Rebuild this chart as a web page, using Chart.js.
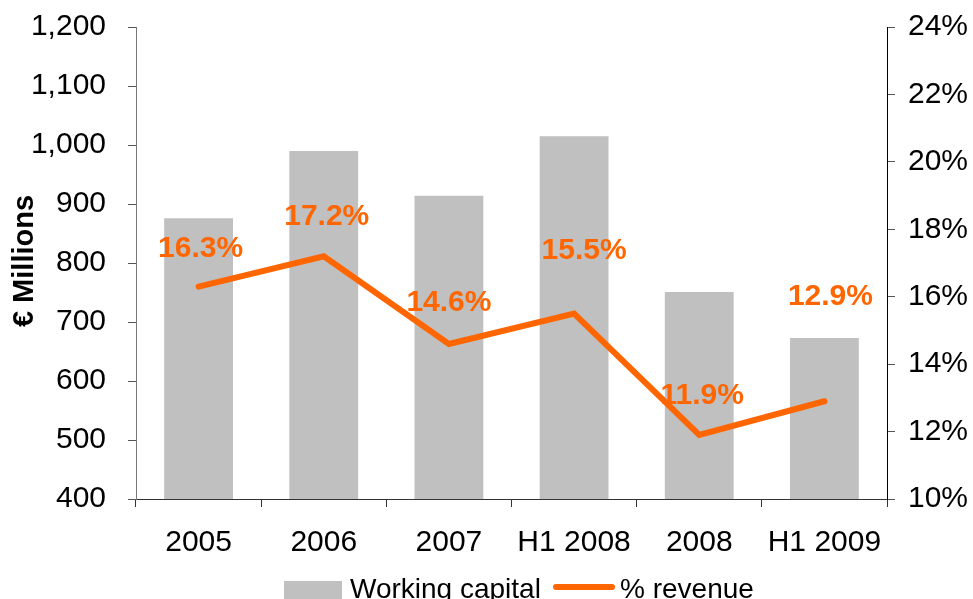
<!DOCTYPE html>
<html>
<head>
<meta charset="utf-8">
<script src="https://cdn.jsdelivr.net/npm/chart.js@4/dist/chart.umd.min.js"></script>
<style>
  html, body { margin: 0; padding: 0; background: #fff; overflow: hidden; }
  canvas { display: block; }
</style>
</head>
<body>
<canvas id="grafico" width="973" height="599"></canvas>
<script>
// categorias e series
const categorias = ["2005", "2006", "2007", "H1 2008", "2008", "H1 2009"];
const capitalGiro = [876, 990, 914, 1015, 751, 673];
const pctReceita = [16.3, 17.2, 14.6, 15.5, 11.9, 12.9];

const LARANJA = "#FF6600";
const CINZA = "#C0C0C0";
const FONTE = "'Liberation Sans', Arial, sans-serif";

// deslocamento dos rotulos em relacao ao ponto (dx, dy)
const deslocRotulos = [[2, -38], [3, -40], [0, -41], [10, -63], [3, -39], [6, -104]];

const pluginExtras = {
    id: "extras",
    afterDatasetDraw(chart, args) {
        if (args.index !== 0) return;
        // rotulos da linha, desenhados antes da linha
        const meta = chart.getDatasetMeta(1);
        const ctx = chart.ctx;
        ctx.save();
        ctx.font = "bold 30px " + FONTE;
        ctx.fillStyle = LARANJA;
        ctx.textAlign = "center";
        ctx.textBaseline = "middle";
        meta.data.forEach((pt, i) => {
            const d = deslocRotulos[i];
            ctx.fillText(pctReceita[i].toFixed(1) + "%", pt.x + d[0], pt.y + d[1]);
        });
        ctx.restore();
    },
    afterDraw(chart) {
        const ctx = chart.ctx;
        ctx.save();
        // titulo do eixo
        ctx.translate(25, 261);
        ctx.rotate(-Math.PI / 2);
        ctx.font = "bold 29px " + FONTE;
        ctx.fillStyle = "#000";
        ctx.textAlign = "center";
        ctx.textBaseline = "middle";
        ctx.fillText("€ Millions", 0, 0);
        ctx.restore();

        // legenda
        ctx.save();
        ctx.font = "28px " + FONTE;
        ctx.textBaseline = "alphabetic";
        ctx.fillStyle = CINZA;
        ctx.fillRect(284, 581, 58, 24);
        ctx.fillStyle = "#000";
        ctx.fillText(chart.data.datasets[0].label, 350, 598);
        ctx.strokeStyle = LARANJA;
        ctx.lineWidth = 6;
        ctx.lineCap = "round";
        ctx.beginPath();
        ctx.moveTo(556, 587);
        ctx.lineTo(612, 587);
        ctx.stroke();
        ctx.fillText(chart.data.datasets[1].label, 620, 598);
        ctx.restore();
    }
};

// largura fixa dos eixos y e sem folga extra em cima
function ajustaEixoY(largura) {
    return function (scale) {
        scale.width = largura;
        scale.paddingTop = 0;
        scale.paddingBottom = 0;
    };
}

const ctx = document.getElementById("grafico").getContext("2d");
new Chart(ctx, {
    type: "bar",
    data: {
        labels: categorias,
        datasets: [
            {
                label: "Working capital",
                data: capitalGiro,
                backgroundColor: CINZA,
                barPercentage: 0.55,
                categoryPercentage: 1,
                yAxisID: "y",
                order: 2
            },
            {
                type: "line",
                label: "% revenue",
                data: pctReceita,
                borderColor: LARANJA,
                backgroundColor: LARANJA,
                borderWidth: 6,
                borderCapStyle: "round",
                pointRadius: 0,
                tension: 0,
                yAxisID: "y1",
                order: 1
            }
        ]
    },
    options: {
        responsive: false,
        devicePixelRatio: 1,
        animation: false,
        layout: { padding: { top: 27, left: 0, right: 0, bottom: 0 } },
        plugins: {
            legend: { display: false },
            tooltip: { enabled: false }
        },
        scales: {
            x: {
                offset: true,
                grid: { offset: true, drawOnChartArea: false, tickLength: 8, color: "#333" },
                border: { color: "#333", width: 1 },
                ticks: { color: "#000", font: { family: FONTE, size: 30 }, padding: 18, maxRotation: 0 },
                afterFit(scale) {
                    scale.height = 100;
                    scale.paddingLeft = 0;
                    scale.paddingRight = 0;
                }
            },
            y: {
                position: "left",
                min: 400,
                max: 1200,
                grid: { drawOnChartArea: false, tickLength: 8, color: "#555" },
                border: { color: "#777", width: 1 },
                ticks: {
                    stepSize: 100,
                    color: "#000",
                    font: { family: FONTE, size: 30 },
                    padding: 22,
                    callback: v => v.toLocaleString("en-US")
                },
                afterFit: ajustaEixoY(136)
            },
            y1: {
                position: "right",
                min: 10,
                max: 24,
                grid: { drawOnChartArea: false, tickLength: 8, color: "#555" },
                border: { color: "#000", width: 1 },
                ticks: {
                    stepSize: 2,
                    color: "#000",
                    font: { family: FONTE, size: 30 },
                    padding: 13,
                    callback: v => v + "%"
                },
                afterFit: ajustaEixoY(86)
            }
        }
    },
    plugins: [pluginExtras]
});
</script>
</body>
</html>
